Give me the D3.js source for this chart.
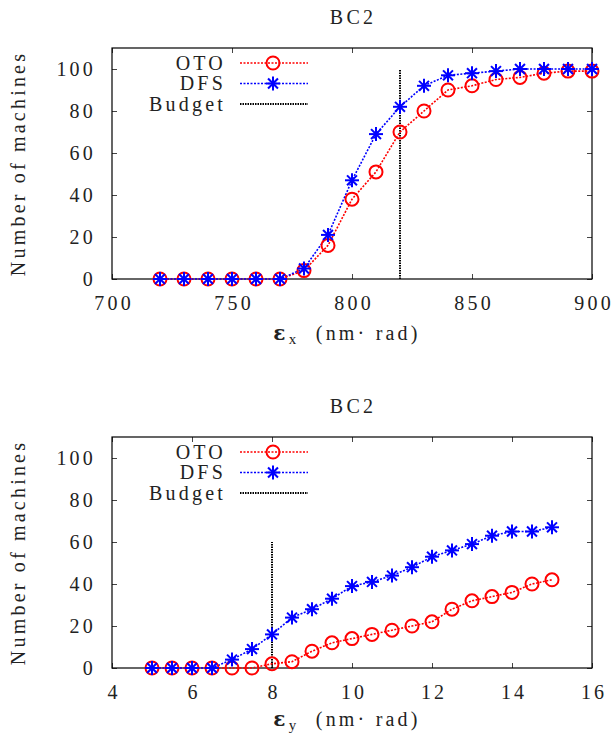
<!DOCTYPE html>
<html>
<head>
<meta charset="utf-8">
<script src="https://cdn.jsdelivr.net/npm/d3@7"></script>
<style>
  body { margin: 0; background: #fff; }
  text { font-family: "Liberation Serif", serif; fill: #222; letter-spacing: 3.2px; }
</style>
</head>
<body>
<div id="chart"></div>
<script>
// top panel: horizontal emittance
const exValues = [720, 730, 740, 750, 760, 770, 780, 790, 800, 810, 820, 830, 840, 850, 860, 870, 880, 890, 900];
const exOTO = [0, 0, 0, 0, 0, 0, 4, 16, 38, 51, 70, 80, 90, 92, 95, 96, 98, 99, 99];
const exDFS = [0, 0, 0, 0, 0, 0, 5, 21, 47, 69, 82, 92, 97, 98, 99, 100, 100, 100, 100];
const exBudget = [820, 100];
const exTicks = [700, 750, 800, 850, 900];

// bottom panel: vertical emittance
const eyValues = [5, 5.5, 6, 6.5, 7, 7.5, 8, 8.5, 9, 9.5, 10, 10.5, 11, 11.5, 12, 12.5, 13, 13.5, 14, 14.5, 15];
const eyOTO = [0, 0, 0, 0, 0, 0, 2, 3, 8, 12, 14, 16, 18, 20, 22, 28, 32, 34, 36, 40, 42];
const eyDFS = [0, 0, 0, 0, 4, 9, 16, 24, 28, 33, 39, 41, 44, 48, 53, 56, 59, 63, 65, 65, 67];
const eyBudget = [8, 60];
const eyTicks = [4, 6, 8, 10, 12, 14, 16];

const yTicks = [0, 20, 40, 60, 80, 100];
const seriesNames = ["OTO", "DFS", "Budget"];

const W = 613, H = 735;
const svg = d3.select("#chart").append("svg")
    .attr("width", W)
    .attr("height", H);

function asterisk(g, r) {
    [0, 45, 90, 135].forEach(a => {
        const rad = a * Math.PI / 180;
        g.append("line")
            .attr("x1", -r * Math.cos(rad)).attr("y1", -r * Math.sin(rad))
            .attr("x2", r * Math.cos(rad)).attr("y2", r * Math.sin(rad))
            .attr("stroke", "blue").attr("stroke-width", 2);
    });
}

function drawPanel(cfg) {
    const { top, xs, oto, dfs, budget, xDomain, xTicks, sub, labelOffset } = cfg;
    const left = 112, right = 592, plotH = 231;
    const x = d3.scaleLinear().domain(xDomain).range([left, right]);
    const y = d3.scaleLinear().domain([0, 110]).range([top + plotH, top]);

    svg.append("text")
        .attr("x", 353).attr("y", top - 24)
        .attr("text-anchor", "middle")
        .attr("font-size", 20)
        .text("BC2");

    // axes, ticks pointing inward on every side
    const fmt = d => d;
    svg.append("g")
        .attr("transform", `translate(0,${top + plotH})`)
        .call(d3.axisBottom(x).tickValues(xTicks).tickSize(-5).tickPadding(17).tickFormat(fmt))
        .call(g => g.select(".domain").remove())
        .call(g => g.selectAll("text").attr("font-size", 20).attr("font-family", "Liberation Serif").attr("dx", 1.6));
    svg.append("g")
        .attr("transform", `translate(0,${top})`)
        .call(d3.axisTop(x).tickValues(xTicks).tickSize(-5).tickFormat(""))
        .call(g => g.select(".domain").remove());
    svg.append("g")
        .attr("transform", `translate(${left},0)`)
        .call(d3.axisLeft(y).tickValues(yTicks).tickSize(-5).tickPadding(16).tickFormat(fmt))
        .call(g => g.select(".domain").remove())
        .call(g => g.selectAll("text").attr("font-size", 20).attr("font-family", "Liberation Serif"));
    svg.append("g")
        .attr("transform", `translate(${right},0)`)
        .call(d3.axisRight(y).tickValues(yTicks).tickSize(-5).tickFormat(""))
        .call(g => g.select(".domain").remove());
    svg.selectAll(".tick line").attr("stroke", "#444");

    svg.append("rect")
        .attr("x", left).attr("y", top)
        .attr("width", right - left).attr("height", plotH)
        .attr("fill", "none").attr("stroke", "#000").attr("stroke-width", 1.2);

    // y label
    svg.append("text")
        .attr("transform", `translate(25,${top + plotH / 2}) rotate(-90)`)
        .attr("text-anchor", "middle")
        .attr("font-size", 20)
        .text("Number of machines");

    // x label
    const xl = svg.append("text")
        .attr("x", 347).attr("y", top + plotH + labelOffset)
        .attr("text-anchor", "middle")
        .attr("font-size", 20);
    xl.append("tspan").attr("font-weight", "bold").attr("font-family", "DejaVu Serif").attr("font-size", 20).text("ε");
    xl.append("tspan").attr("dy", 4).attr("font-size", 15).text(sub);
    xl.append("tspan").attr("dy", -4).text("\u00a0\u00a0(nm\u00b7\u00a0rad)");

    const line = d3.line().x(d => x(d[0])).y(d => y(d[1]));

    // budget line
    svg.append("path")
        .attr("d", line([[budget[0], 0], [budget[0], budget[1]]]))
        .attr("stroke", "#000").attr("stroke-width", 2).attr("stroke-dasharray", "1.5,1");

    const otoPts = xs.map((v, i) => [v, oto[i]]);
    const dfsPts = xs.map((v, i) => [v, dfs[i]]);

    svg.append("path").attr("d", line(otoPts))
        .attr("fill", "none").attr("stroke", "red").attr("stroke-width", 1.6).attr("stroke-dasharray", "2,1.5");
    svg.append("path").attr("d", line(dfsPts))
        .attr("fill", "none").attr("stroke", "blue").attr("stroke-width", 1.6).attr("stroke-dasharray", "2,1.5");

    svg.selectAll(null).data(otoPts).enter().append("circle")
        .attr("cx", d => x(d[0])).attr("cy", d => y(d[1])).attr("r", 6.5)
        .attr("fill", "none").attr("stroke", "red").attr("stroke-width", 2);
    dfsPts.forEach(d => {
        asterisk(svg.append("g").attr("transform", `translate(${x(d[0])},${y(d[1])})`), 7);
    });

    // legend
    const ly = [top + 15, top + 35.5, top + 56];
    seriesNames.forEach((name, i) => {
        svg.append("text")
            .attr("x", 226).attr("y", ly[i] + 6.5)
            .attr("text-anchor", "end")
            .attr("font-size", 20)
            .text(name);
    });
    svg.append("line").attr("x1", 240).attr("x2", 308).attr("y1", ly[0]).attr("y2", ly[0])
        .attr("stroke", "red").attr("stroke-width", 1.6).attr("stroke-dasharray", "2,1.5");
    svg.append("circle").attr("cx", 273).attr("cy", ly[0]).attr("r", 6.5)
        .attr("fill", "none").attr("stroke", "red").attr("stroke-width", 2);
    svg.append("line").attr("x1", 240).attr("x2", 308).attr("y1", ly[1]).attr("y2", ly[1])
        .attr("stroke", "blue").attr("stroke-width", 1.6).attr("stroke-dasharray", "2,1.5");
    asterisk(svg.append("g").attr("transform", `translate(273,${ly[1]})`), 7);
    svg.append("line").attr("x1", 240).attr("x2", 308).attr("y1", ly[2]).attr("y2", ly[2])
        .attr("stroke", "#000").attr("stroke-width", 2).attr("stroke-dasharray", "1.5,1");
}

drawPanel({ top: 48, xs: exValues, oto: exOTO, dfs: exDFS, budget: exBudget,
    xDomain: [700, 900], xTicks: exTicks, sub: "x", labelOffset: 61 });
drawPanel({ top: 437, xs: eyValues, oto: eyOTO, dfs: eyDFS, budget: eyBudget,
    xDomain: [4, 16], xTicks: eyTicks, sub: "y", labelOffset: 58 });
</script>
</body>
</html>
